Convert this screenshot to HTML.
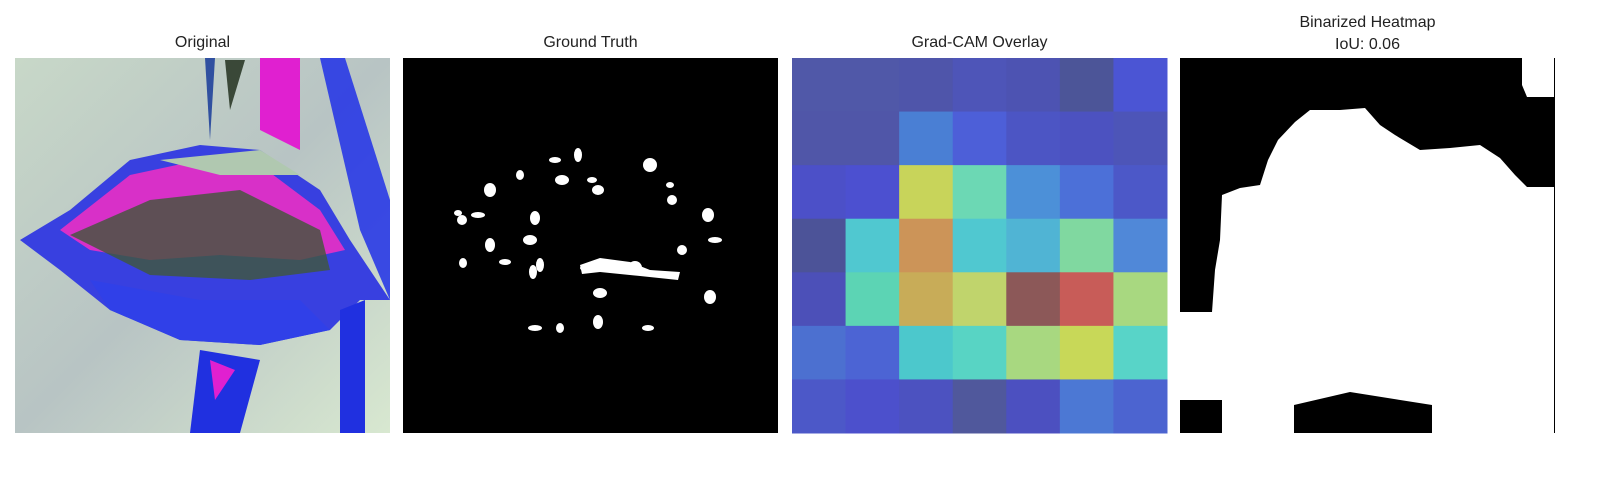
<!DOCTYPE html>
<html><head><meta charset="utf-8"><style>
body{margin:0;background:#fff;width:1600px;height:500px;overflow:hidden;font-family:"Liberation Sans","DejaVu Sans",sans-serif}
.t{position:absolute;font-size:16px;color:#222;text-align:center;width:375px}
</style></head><body>
<div class="t" style="left:15px;top:34px">Original</div>
<div class="t" style="left:403px;top:34px">Ground Truth</div>
<div class="t" style="left:792px;top:34px">Grad-CAM Overlay</div>
<div class="t" style="left:1180px;top:12px;line-height:22px">Binarized Heatmap<br>IoU: 0.06</div>
<svg width="1600" height="500" style="position:absolute;left:0;top:0;z-index:-1">
<defs><linearGradient id="bg" x1="0" y1="0" x2="1" y2="1"><stop offset="0" stop-color="#c8d8c8"/><stop offset="0.5" stop-color="#b8c4c4"/><stop offset="1" stop-color="#d8e8d0"/></linearGradient></defs>
<g>
<rect x="15" y="58" width="375" height="375" fill="url(#bg)"/>
<path d="M205 58 L215 58 L210 140 Z" fill="#3050a0"/>
<path d="M225 60 L245 60 L230 110 Z" fill="#3a4838"/>
<path d="M260 58 L300 58 L300 150 L260 130 Z" fill="#e020d0"/>
<path d="M320 58 L345 58 L390 200 L390 300 L360 230 Z" fill="#2030e8" opacity="0.85"/>
<path d="M20 240 L70 210 L130 160 L200 145 L260 150 L320 190 L350 240 L390 300 L360 300 L330 330 L260 345 L180 340 L110 310 L60 270 Z" fill="#3840e0"/>
<path d="M60 230 L130 175 L200 160 L260 165 L320 210 L345 250 L300 260 L220 255 L150 260 L90 250 Z" fill="#d830c8"/>
<path d="M70 235 L150 200 L240 190 L320 230 L330 270 L250 280 L150 275 Z" fill="#405838" opacity="0.8"/>
<path d="M160 160 L260 150 L300 175 L220 175 Z" fill="#b0c8b0"/>
<path d="M90 280 L200 300 L300 300 L330 330 L260 345 L180 340 L110 310 Z" fill="#3040e8"/>
<path d="M200 350 L260 360 L240 433 L190 433 Z" fill="#2030e0"/>
<path d="M340 310 L365 300 L365 433 L340 433 Z" fill="#2030e0"/>
<path d="M210 360 L235 370 L215 400 Z" fill="#e020d0"/>
</g>
<g>
<rect x="403" y="58" width="375" height="375" fill="#000"/>
<g fill="#fff" id="gt"></g>
</g>
<g id="cam"></g>
<g>
<rect x="1180" y="58" width="375" height="375" fill="#000"/>
<path d="M1180 433 L1180 312 L1212 312 L1215 270 L1220 240 L1222 195 L1240 188 L1260 185 L1268 160 L1278 140 L1295 122 L1310 110 L1340 110 L1365 108 L1380 125 L1395 135 L1420 150 L1450 148 L1480 145 L1500 158 L1515 175 L1527 187 L1554 187 L1554 433 Z" fill="#fff"/>
<path d="M1522 58 L1554 58 L1554 97 L1527 97 L1522 85 Z" fill="#fff"/>
<rect x="1180" y="400" width="42" height="33" fill="#000"/>
<path d="M1294 433 L1294 405 L1350 392 L1432 405 L1432 433 Z" fill="#000"/>
</g>
</svg>
<script>
const camColors=[
["#5058a8","#5058a8","#4f55aa","#4e55b8","#4d53b2","#4c5598","#4b55d4"],
["#5056a8","#5056a8","#4a7fd4","#4d5fd8","#4c55c4","#4c52c0","#4d55b8"],
["#4c50c8","#4c50d0","#c8d45a","#6cd8b4","#4c90d8","#4c70d8","#4c58c8"],
["#4c5398","#50c8d0","#cc9458","#50c8d0","#50b4d4","#80d8a0","#5088d8"],
["#4c50b8","#5cd4b4","#c8ac58","#c0d46c","#8c5858","#c85c58","#a8d880"],
["#4c70d0","#4c64d4","#4cc8cc","#58d4c4","#a8d880","#c8d858","#58d4c8"],
["#4c58c8","#4c50cc","#4c52c0","#50589c","#4c50c0","#4c78d4","#4c64d0"]];
const gtX=[458,462,490,478,520,535,555,562,578,592,598,650,670,672,708,715,463,490,505,530,540,585,605,635,668,682,710,535,560,598,648,600,533];
const gtY=[213,220,190,215,175,218,160,180,155,180,190,165,185,200,215,240,263,245,262,240,265,268,265,268,275,250,297,328,328,322,328,293,272];
const NS="http://www.w3.org/2000/svg";
const cam=document.getElementById('cam');
const cs=375/7;
camColors.forEach((row,r)=>row.forEach((c,k)=>{
 const e=document.createElementNS(NS,'rect');
 
 
 e.setAttribute('x',792+k*cs);e.setAttribute('y',58+r*cs);
 e.setAttribute('width',cs+0.5);e.setAttribute('height',cs+0.5);e.setAttribute('fill',c);
 cam.appendChild(e);}));
const gt=document.getElementById('gt');
gtX.forEach((x,i)=>{
 const e=document.createElementNS(NS,'ellipse');
 
 
 e.setAttribute('cx',x);e.setAttribute('cy',gtY[i]);
 e.setAttribute('rx',4+(i%4));e.setAttribute('ry',3+(i%3)*2);
 gt.appendChild(e);});
const st=document.createElementNS(NS,'path');


st.setAttribute('d','M580 265 L600 258 L630 262 L650 270 L680 272 L678 280 L640 276 L600 272 L582 274 Z');
gt.appendChild(st);
</script>
</body></html>
